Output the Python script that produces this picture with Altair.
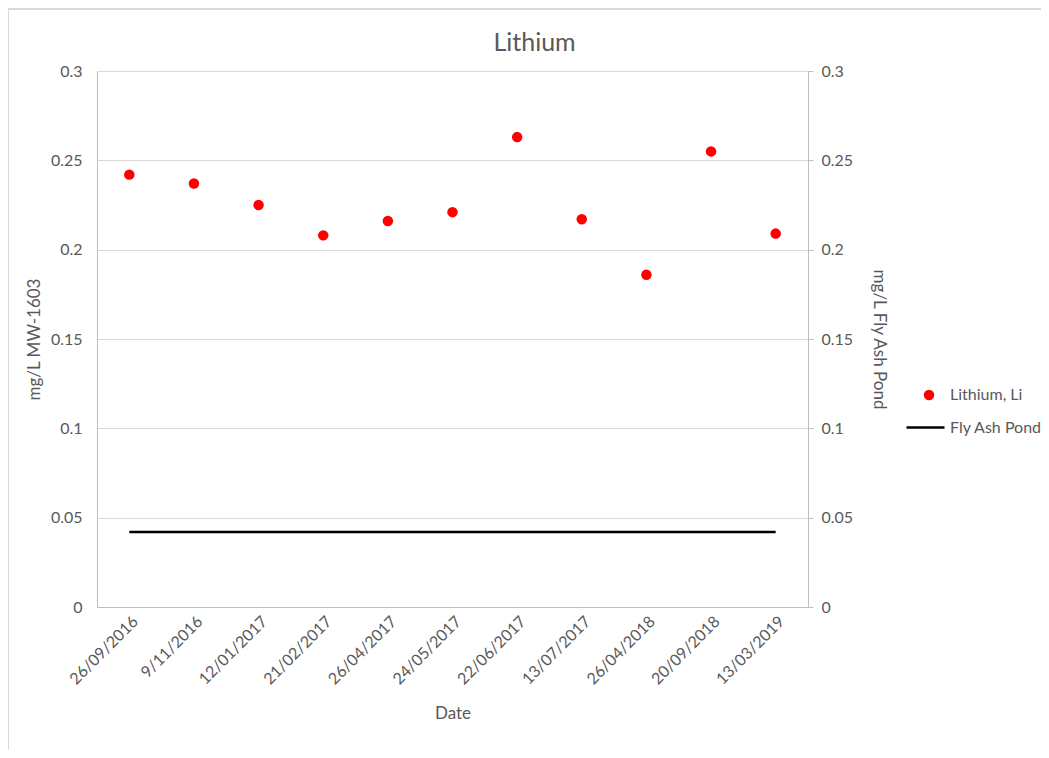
import altair as alt
import pandas as pd

dates = ["26/09/2016", "9/11/2016", "12/01/2017", "21/02/2017", "26/04/2017",
         "24/05/2017", "22/06/2017", "13/07/2017", "26/04/2018", "20/09/2018",
         "13/03/2019"]
lithium = [0.242, 0.237, 0.225, 0.208, 0.216, 0.221, 0.263, 0.217, 0.186, 0.255, 0.209]
fly_ash = [0.042, 0.042, 0.042, 0.042, 0.042, 0.042, 0.042, 0.042, 0.042, 0.042, 0.042]

df = pd.DataFrame({"Date": dates, "Lithium": lithium, "FlyAsh": fly_ash,
                   "s1": "Lithium, Li", "s2": "Fly Ash Pond"})

FONT = "Lato"
TXT = "#595959"
GRID = "#d9d9d9"
AX = "#bfbfbf"
LBL = 16

W, H = 711, 536
PL, PT = 89, 63

xenc = alt.X("Date:O", sort=dates, title="Date",
             scale=alt.Scale(type="point", padding=0.5),
             axis=alt.Axis(labelAngle=-45, labelFontSize=LBL, labelColor=TXT,
                           labelFont=FONT, titleFont=FONT, titleFontSize=17,
                           titleColor=TXT, titleFontWeight="normal", ticks=False,
                           domainColor=AX, labelPadding=6, titlePadding=18))

yscale = alt.Scale(domain=[0, 0.3], nice=False, zero=True)

points = alt.Chart(df).mark_point(filled=True, size=110, opacity=1).encode(
    x=xenc,
    y=alt.Y("Lithium:Q", scale=yscale, title="mg/L MW-1603",
            axis=alt.Axis(values=[0, 0.05, 0.1, 0.15, 0.2, 0.25, 0.3], format="~g",
                          labelFontSize=LBL, labelColor=TXT, labelFont=FONT,
                          titleFont=FONT, titleFontSize=17, titleColor=TXT,
                          titleFontWeight="normal", ticks=False, domainColor=AX,
                          gridColor=GRID, labelPadding=15, titlePadding=7)),
    color=alt.Color("s1:N", scale=alt.Scale(domain=["Lithium, Li"], range=["#ff0000"]),
                    legend=alt.Legend(title=None, orient="none", legendX=824, legendY=316,
                                      symbolType="circle", symbolSize=110,
                                      labelFontSize=LBL, labelColor=TXT, labelFont=FONT,
                                      labelOffset=13, padding=0)),
)

line = alt.Chart(df).mark_line(strokeWidth=2.5).encode(
    x=alt.X("Date:O", sort=dates, scale=alt.Scale(type="point", padding=0.5)),
    y=alt.Y("FlyAsh:Q", scale=yscale, title="mg/L Fly Ash Pond",
            axis=alt.Axis(orient="right", values=[0, 0.05, 0.1, 0.15, 0.2, 0.25, 0.3],
                          format="~g", grid=False, labelFontSize=LBL, labelColor=TXT,
                          labelFont=FONT, titleFont=FONT, titleFontSize=17,
                          titleColor=TXT, titleFontWeight="normal", tickSize=5,
                          tickColor=AX, domainColor=AX, labelPadding=8,
                          titlePadding=17)),
    color=alt.Color("s2:N", scale=alt.Scale(domain=["Fly Ash Pond"], range=["#000000"]),
                    legend=alt.Legend(title=None, orient="none", legendX=808, legendY=336,
                                      symbolType="stroke", symbolSize=1444,
                                      symbolStrokeWidth=2.5,
                                      labelFontSize=LBL, labelColor=TXT, labelFont=FONT,
                                      labelOffset=4, padding=0)),
)

border = alt.Chart(df).mark_rect(fill=None, stroke="#d9d9d9", strokeWidth=2).encode(
    x=alt.value(-PL), x2=alt.value(1049 - 8 + 5), y=alt.value(-PT + 1), y2=alt.value(H + 200)
)

chart = alt.layer(border, points, line).resolve_scale(
    y="independent", color="independent"
).properties(
    width=W, height=H,
    title=alt.TitleParams("Lithium", fontSize=25, font=FONT, color=TXT,
                          fontWeight="normal", anchor="middle", dx=82, offset=-48),
    autosize=alt.AutoSizeParams(type="none"),
    padding={"left": PL, "top": PT, "right": 1049 - 16 - PL - W, "bottom": 758 - 16 - PT - H},
).configure_view(stroke=None).configure(background="white")

chart.save("out.html", embed_options={"renderer": "svg", "actions": False})
